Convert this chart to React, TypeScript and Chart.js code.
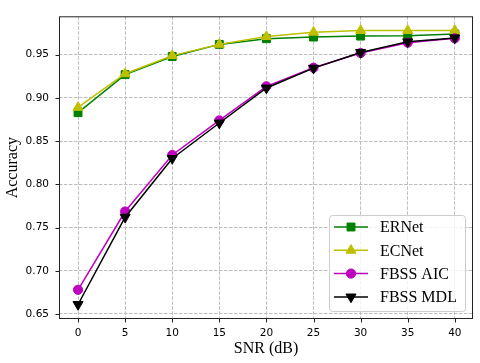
import React, { useEffect, useRef } from "react";
import { Chart, registerables } from "chart.js";

Chart.register(...registerables);

const snr = [0, 5, 10, 15, 20, 25, 30, 35, 40];
const ernet = [0.883, 0.927, 0.948, 0.962, 0.9686, 0.9705, 0.9716, 0.972, 0.974];
const ecnet = [0.889, 0.928, 0.949, 0.962, 0.971, 0.976, 0.978, 0.978, 0.978];
const fbssAic = [0.678, 0.7686, 0.834, 0.874, 0.9135, 0.935, 0.952, 0.964, 0.969];
const fbssMdl = [0.661, 0.762, 0.83, 0.871, 0.9115, 0.9345, 0.9527, 0.965, 0.9695];
const seriesNames = ["ERNet", "ECNet", "FBSS AIC", "FBSS MDL"];
const seriesColors = ["#008000", "#bfbf00", "#bf00bf", "#000000"];
const seriesMarkers = ["rect", "triangle", "circle", "triangle"];
const seriesRot = [0, 0, 0, 180];
const seriesRadius = [5.6, 5.8, 4.6, 5.8];
const xTitle = "SNR (dB)";
const yTitle = "Accuracy";

const SERIF = "'Liberation Serif', 'DejaVu Serif', serif";
const SANS = "'DejaVu Sans', sans-serif";

function drawMarker(ctx: CanvasRenderingContext2D, kind: string, rot: number, x: number, y: number, r: number, color: string) {
  ctx.save();
  ctx.fillStyle = color;
  ctx.strokeStyle = color;
  ctx.lineWidth = 1;
  ctx.setLineDash([]);
  ctx.beginPath();
  if (kind === "rect") {
    const s = Math.SQRT1_2 * r;
    ctx.rect(x - s, y - s, 2 * s, 2 * s);
  } else if (kind === "circle") {
    ctx.arc(x, y, r, 0, Math.PI * 2);
  } else {
    const dir = rot === 180 ? -1 : 1;
    const a = (Math.PI / 180) * 30;
    ctx.moveTo(x, y - dir * r);
    ctx.lineTo(x + Math.cos(a) * r, y + dir * Math.sin(a) * r);
    ctx.lineTo(x - Math.cos(a) * r, y + dir * Math.sin(a) * r);
    ctx.closePath();
  }
  ctx.fill();
  ctx.stroke();
  ctx.restore();
}

const framePlugin = {
  id: "framePlugin",
  afterDatasetsDraw(chart: any) {
    const ctx: CanvasRenderingContext2D = chart.ctx;
    const a = chart.chartArea;
    const xs = chart.scales.x;
    const ys = chart.scales.y;
    ctx.save();
    ctx.strokeStyle = "#222";
    ctx.lineWidth = 1;
    ctx.setLineDash([]);
    ctx.strokeRect(a.left + 0.5, a.top + 0.5, a.right - a.left - 1, a.bottom - a.top - 1);
    ctx.beginPath();
    xs.ticks.forEach((t: any) => {
      const px = Math.round(xs.getPixelForValue(t.value)) + 0.5;
      ctx.moveTo(px, a.bottom);
      ctx.lineTo(px, a.bottom + 3.5);
    });
    ys.ticks.forEach((t: any) => {
      const py = Math.round(ys.getPixelForValue(t.value)) + 0.5;
      ctx.moveTo(a.left, py);
      ctx.lineTo(a.left - 3.5, py);
    });
    ctx.stroke();

    // legend
    const lx = 329, ly = 215, lw = 136, lh = 96;
    ctx.beginPath();
    if ((ctx as any).roundRect) (ctx as any).roundRect(lx + 0.5, ly + 0.5, lw, lh, 3);
    else ctx.rect(lx + 0.5, ly + 0.5, lw, lh);
    ctx.fillStyle = "rgba(255,255,255,0.8)";
    ctx.fill();
    ctx.strokeStyle = "#cccccc";
    ctx.stroke();
    ctx.font = `16px ${SERIF}`;
    ctx.textBaseline = "middle";
    ctx.textAlign = "left";
    seriesNames.forEach((name, i) => {
      const yy = 227 + i * 23.3;
      ctx.strokeStyle = seriesColors[i];
      ctx.lineWidth = 1.5;
      ctx.beginPath();
      ctx.moveTo(334, yy);
      ctx.lineTo(368, yy);
      ctx.stroke();
      drawMarker(ctx, seriesMarkers[i], seriesRot[i], 351, yy, seriesRadius[i], seriesColors[i]);
      ctx.fillStyle = "#000";
      ctx.fillText(name, 380, yy + 1);
    });
    ctx.restore();
  },
};

export default function App() {
  const ref = useRef<HTMLCanvasElement | null>(null);
  useEffect(() => {
    document.body.style.margin = "0";
    const data = [ernet, ecnet, fbssAic, fbssMdl];
    const chart = new Chart(ref.current as HTMLCanvasElement, {
      type: "line",
      data: {
        datasets: seriesNames.map((name, i) => ({
          label: name,
          data: snr.map((x, j) => ({ x, y: data[i][j] })),
          borderColor: seriesColors[i],
          backgroundColor: seriesColors[i],
          borderWidth: 1.5,
          pointStyle: seriesMarkers[i] as any,
          pointRotation: seriesRot[i],
          pointRadius: seriesRadius[i],
          pointBorderWidth: 1,
          pointHoverRadius: seriesRadius[i],
          tension: 0,
          fill: false,
          order: 4 - i,
        })),
      },
      options: {
        animation: false,
        responsive: false,
        devicePixelRatio: 1,
        layout: { padding: { top: 11, right: 7, left: 0, bottom: 0 } },
        plugins: { legend: { display: false }, tooltip: { enabled: false } },
        scales: {
          x: {
            type: "linear",
            min: -2.02,
            max: 41.93,
            afterFit: (s: any) => { s.height = 44; },
            ticks: {
              stepSize: 5,
              includeBounds: false,
              padding: 8,
              color: "#000",
              font: { family: SANS, size: 10.5 },
              maxRotation: 0,
              callback: (v: any) => String(v),
            },
            grid: { color: "#bdbdbd", lineWidth: 1, drawTicks: false },
            border: { display: false, dash: [3.5, 1.5] },
            title: { display: true, text: xTitle, color: "#000", font: { family: SERIF, size: 16 }, padding: { top: 0, bottom: 5 } },
          },
          y: {
            type: "linear",
            min: 0.6442,
            max: 0.9945,
            afterFit: (s: any) => { s.width = 59; },
            ticks: {
              stepSize: 0.05,
              includeBounds: false,
              padding: 10,
              color: "#000",
              font: { family: SANS, size: 10.5 },
              callback: (v: any) => Number(v).toFixed(2),
            },
            grid: { color: "#bdbdbd", lineWidth: 1, drawTicks: false },
            border: { display: false, dash: [3.5, 1.5] },
            title: { display: true, text: yTitle, color: "#000", font: { family: SERIF, size: 16 }, padding: { top: 3, bottom: 0 } },
          },
        },
      } as any,
      plugins: [framePlugin],
    });
    return () => chart.destroy();
  }, []);
  return <canvas ref={ref} width={480} height={363} style={{ display: "block" }} />;
}
